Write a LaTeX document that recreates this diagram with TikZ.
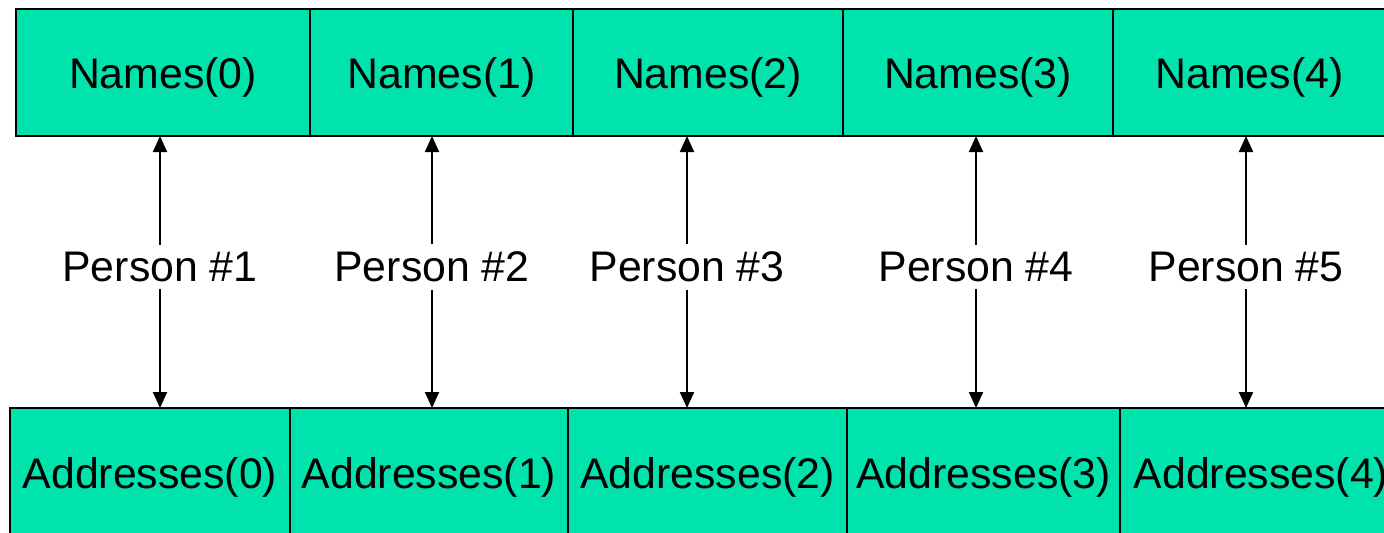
\documentclass[tikz,border=0pt]{standalone}
\usepackage{fontspec}
\setmainfont{Liberation Sans}
\usetikzlibrary{positioning,arrows.meta}
\definecolor{cellgreen}{RGB}{0,227,172}
\begin{document}
\begin{tikzpicture}[x=0.5pt, y=-0.5pt,
		cell/.style={draw=black, line width=1pt, fill=cellgreen, outer sep=0pt, inner sep=0pt, minimum height=63.5pt, text height=16.4pt, text depth=0pt, font=\fontsize{21.4pt}{25pt}\selectfont},
		person/.style={inner sep=3.5pt, font=\fontsize{21.4pt}{25pt}\selectfont},
		link/.style={line width=1pt, -{Triangle[width=7pt,length=8pt]}}]
		\clip (0,0) rectangle (1384,532);
		\node[cell, minimum width=147pt] (n0) at (163,72.5) {Names(0)};
		\node[cell, minimum width=131.5pt, right=0pt of n0] (n1) {Names(1)};
		\node[cell, minimum width=135pt, right=0pt of n1] (n2) {Names(2)};
		\node[cell, minimum width=135pt, right=0pt of n2] (n3) {Names(3)};
		\node[cell, minimum width=136.5pt, right=0pt of n3] (n4) {Names(4)};
		\node[cell, minimum width=140pt, minimum height=64pt] (a0) at (150,472) {Addresses(0)};
		\node[cell, minimum width=139pt, minimum height=64pt, right=0pt of a0] (a1) {Addresses(1)};
		\node[cell, minimum width=139.5pt, minimum height=64pt, right=0pt of a1] (a2) {Addresses(2)};
		\node[cell, minimum width=136.5pt, minimum height=64pt, right=0pt of a2] (a3) {Addresses(3)};
		\node[cell, minimum width=141pt, minimum height=64pt, right=0pt of a3] (a4) {Addresses(4)};
		\node[person] (p1) at (160,267) {Person \#1};
		\node[person] (p2) at (432,267) {Person \#2};
		\node[person] (p3) at (687,267) {Person \#3};
		\node[person] (p4) at (976,267) {Person \#4};
		\node[person] (p5) at (1246,267) {Person \#5};
		\draw[link] (p1) -- (p1 |- n0.south);
		\draw[link] (p1) -- (p1 |- a0.north);
		\draw[link] (p2) -- (p2 |- n1.south);
		\draw[link] (p2) -- (p2 |- a1.north);
		\draw[link] (p3) -- (p3 |- n2.south);
		\draw[link] (p3) -- (p3 |- a2.north);
		\draw[link] (p4) -- (p4 |- n3.south);
		\draw[link] (p4) -- (p4 |- a3.north);
		\draw[link] (p5) -- (p5 |- n4.south);
		\draw[link] (p5) -- (p5 |- a4.north);
	\end{tikzpicture}
\end{document}
